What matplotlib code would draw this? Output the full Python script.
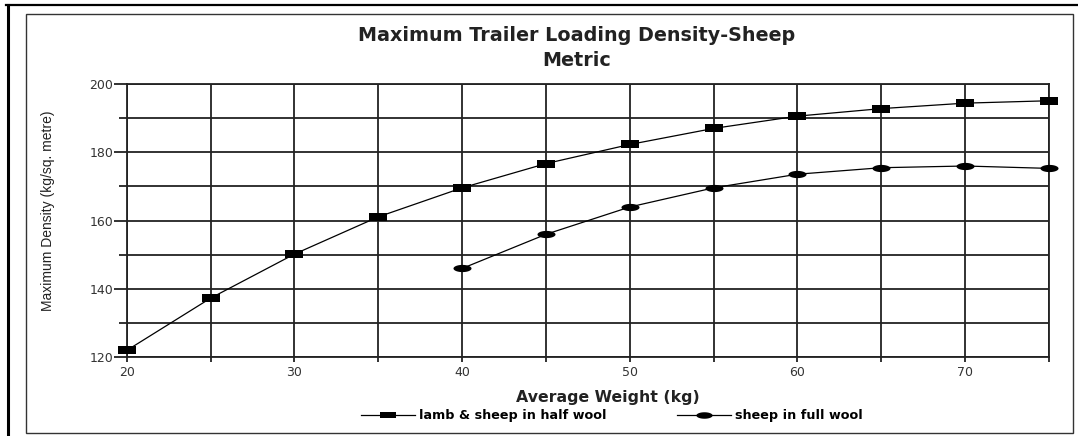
#! usr/bin/env python3
import numpy as np
import matplotlib.pyplot as plt
from matplotlib.lines import Line2D
from matplotlib.patches import Rectangle

# average weight (kg)
weight_half = [20, 25, 30, 35, 40, 45, 50, 55, 60, 65, 70, 75]
weight_full = [40, 45, 50, 55, 60, 65, 70, 75]
# maximum density (kg/sq. metre)
density_half = [122, 137.3, 150.2, 161.1, 169.6, 176.7, 182.3, 187, 190.6, 192.8, 194.4, 195.1]
density_full = [146, 156, 164, 169.6, 173.6, 175.5, 176, 175.3]

label_half = 'lamb & sheep in half wool'
label_full = 'sheep in full wool'
title = 'Maximum Trailer Loading Density-Sheep\nMetric'
xlabel = 'Average Weight (kg)'
ylabel = 'Maximum Density (kg/sq. metre)'

# DejaVu is wider, closer to the sideways-stretched original
plt.rcParams['font.family'] = ['DejaVu Sans']

# wide flat markers
rect_marker = [(-1, -0.39), (1, -0.39), (1, 0.39), (-1, 0.39), (-1, -0.39)]
th = np.linspace(0, 2*np.pi, 40)
ell_marker = list(zip(np.cos(th), 0.4*np.sin(th)))

fig = plt.figure(figsize=(10.78, 4.36), dpi=100)

# page frame lines and the chart frame
fig.add_artist(Line2D([7.6/1078, 7.6/1078], [0, 1-5/436], color='black', lw=2.2))
fig.add_artist(Line2D([6/1078, 1], [1-5/436, 1-5/436], color='black', lw=1.6))
fig.add_artist(Rectangle((26/1078, 3/436), 1047/1078, 419/436, fill=False,
                         edgecolor='#333333', lw=1.0))

ax = fig.add_axes([0.1175, 0.1805, 0.9731-0.1175, 0.8073-0.1805])
ax.plot(weight_half, density_half, color='black', lw=0.9, marker=rect_marker,
        markersize=13, markerfacecolor='black', markeredgewidth=0, label=label_half,
        clip_on=False, zorder=3)
ax.plot(weight_full, density_full, color='black', lw=0.9, marker=ell_marker,
        markersize=13, markerfacecolor='black', markeredgewidth=0, label=label_full,
        clip_on=False, zorder=3)

ax.set_xlim(20, 75)
ax.set_ylim(120, 200)
ax.set_xticks(np.arange(20, 71, 10))
ax.set_xticks(np.arange(25, 76, 5), minor=True)
ax.set_yticks(np.arange(120, 201, 20))
ax.set_yticks(np.arange(130, 200, 10), minor=True)
ax.grid(which='both', color='#222222', lw=1.3)
for s in ax.spines.values():
    s.set_color('#222222')
    s.set_linewidth(1.3)
ax.tick_params(axis='y', which='major', length=9.5, width=1.3, color='#222222',
               labelsize=9, labelcolor='#333333', pad=0)
ax.tick_params(axis='y', which='minor', length=6, width=1.3, color='#222222')
ax.tick_params(axis='x', which='both', length=3.5, width=1.3, color='#222222',
               labelsize=9, labelcolor='#333333', pad=3)

ax.set_xlabel(xlabel, fontsize=11.3, fontweight='bold', color='#222222')
ax.xaxis.set_label_coords(0.522, -0.12)
ax.set_ylabel(ylabel, fontsize=10, color='#222222',
              family=['Liberation Sans Narrow', 'Liberation Sans'])
ax.yaxis.set_label_coords(-0.078, 0.535)
fig.text(0.535, 0.891, title, ha='center', va='center', fontsize=13.8,
         fontweight='bold', color='#222222', linespacing=1.4)

fig.legend(loc='center', bbox_to_anchor=(0.5677, 0.047), ncol=2, frameon=False,
           prop={'size': 9.2, 'weight': 'bold'}, handlelength=4.2, handletextpad=0.35,
           columnspacing=5.5, markerscale=0.9)

plt.savefig('out.png', dpi=100)
plt.close()
